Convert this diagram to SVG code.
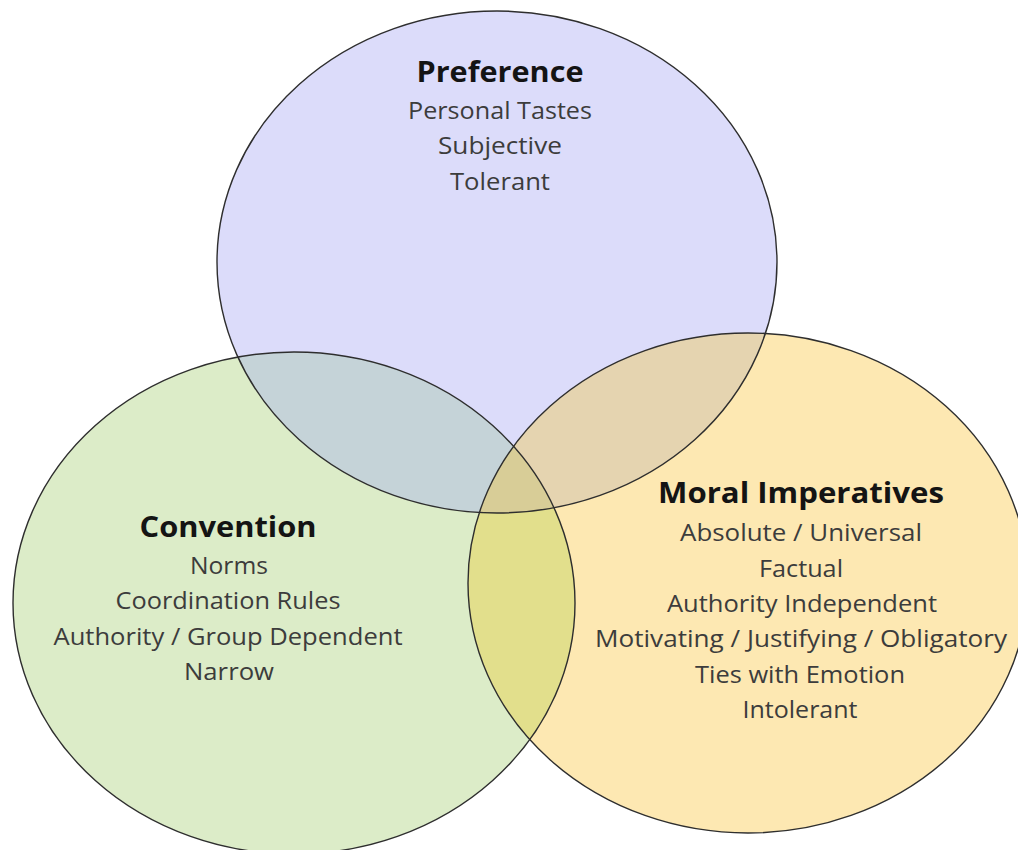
<svg xmlns="http://www.w3.org/2000/svg" width="1018" height="850" viewBox="0 0 1018 850">
  <style>
    .title { font-family: "Open Sans", "Noto Sans", sans-serif; font-weight: bold; font-size: 29px; fill: #141414; text-anchor: middle; }
    .item { font-family: "Open Sans", "Noto Sans", sans-serif; font-size: 24px; fill: #3c3c3c; text-anchor: middle; }
    .edge { fill: none; stroke: #2e2e2e; stroke-width: 1.4; }
  </style>
  <defs>
    <clipPath id="clipTop"><ellipse cx="497" cy="262" rx="280" ry="251"/></clipPath>
    <clipPath id="clipRight"><ellipse cx="748" cy="583" rx="280" ry="250"/></clipPath>
  </defs>
  <rect width="1018" height="850" fill="#ffffff"/>

  <g id="fills">
    <ellipse cx="497" cy="262" rx="280" ry="251" fill="#dcdcfa"/>
    <ellipse cx="294" cy="603" rx="281" ry="251" fill="#dcecc8"/>
    <ellipse cx="748" cy="583" rx="280" ry="250" fill="#fde8b2"/>
    <ellipse cx="294" cy="603" rx="281" ry="251" fill="#c5d3d8" clip-path="url(#clipTop)"/>
    <ellipse cx="748" cy="583" rx="280" ry="250" fill="#e5d4b0" clip-path="url(#clipTop)"/>
    <ellipse cx="294" cy="603" rx="281" ry="251" fill="#e2df8c" clip-path="url(#clipRight)"/>
    <g clip-path="url(#clipTop)">
      <ellipse cx="294" cy="603" rx="281" ry="251" fill="#d8cd97" clip-path="url(#clipRight)"/>
    </g>
  </g>

  <g id="outlines">
    <ellipse class="edge" cx="497" cy="262" rx="280" ry="251"/>
    <ellipse class="edge" cx="294" cy="603" rx="281" ry="251"/>
    <ellipse class="edge" cx="748" cy="583" rx="280" ry="250"/>
  </g>

  <g id="preference">
    <text class="title" x="500" y="82" textLength="167" lengthAdjust="spacingAndGlyphs">Preference</text>
    <text class="item" x="500" y="119" textLength="184" lengthAdjust="spacingAndGlyphs">Personal Tastes</text>
    <text class="item" x="500" y="154" textLength="124" lengthAdjust="spacingAndGlyphs">Subjective</text>
    <text class="item" x="500" y="190" textLength="100" lengthAdjust="spacingAndGlyphs">Tolerant</text>
  </g>

  <g id="convention">
    <text class="title" x="228" y="537" textLength="177" lengthAdjust="spacingAndGlyphs">Convention</text>
    <text class="item" x="229" y="574" textLength="78" lengthAdjust="spacingAndGlyphs">Norms</text>
    <text class="item" x="228" y="609" textLength="225" lengthAdjust="spacingAndGlyphs">Coordination Rules</text>
    <text class="item" x="228" y="645" textLength="349" lengthAdjust="spacingAndGlyphs">Authority / Group Dependent</text>
    <text class="item" x="229" y="680" textLength="90" lengthAdjust="spacingAndGlyphs">Narrow</text>
  </g>

  <g id="moral">
    <text class="title" x="801" y="503" textLength="286" lengthAdjust="spacingAndGlyphs">Moral Imperatives</text>
    <text class="item" x="801" y="541" textLength="242" lengthAdjust="spacingAndGlyphs">Absolute / Universal</text>
    <text class="item" x="801" y="577" textLength="84" lengthAdjust="spacingAndGlyphs">Factual</text>
    <text class="item" x="802" y="612" textLength="270" lengthAdjust="spacingAndGlyphs">Authority Independent</text>
    <text class="item" x="801" y="647" textLength="412" lengthAdjust="spacingAndGlyphs">Motivating / Justifying / Obligatory</text>
    <text class="item" x="800" y="683" textLength="210" lengthAdjust="spacingAndGlyphs">Ties with Emotion</text>
    <text class="item" x="800" y="718" textLength="115" lengthAdjust="spacingAndGlyphs">Intolerant</text>
  </g>
</svg>
